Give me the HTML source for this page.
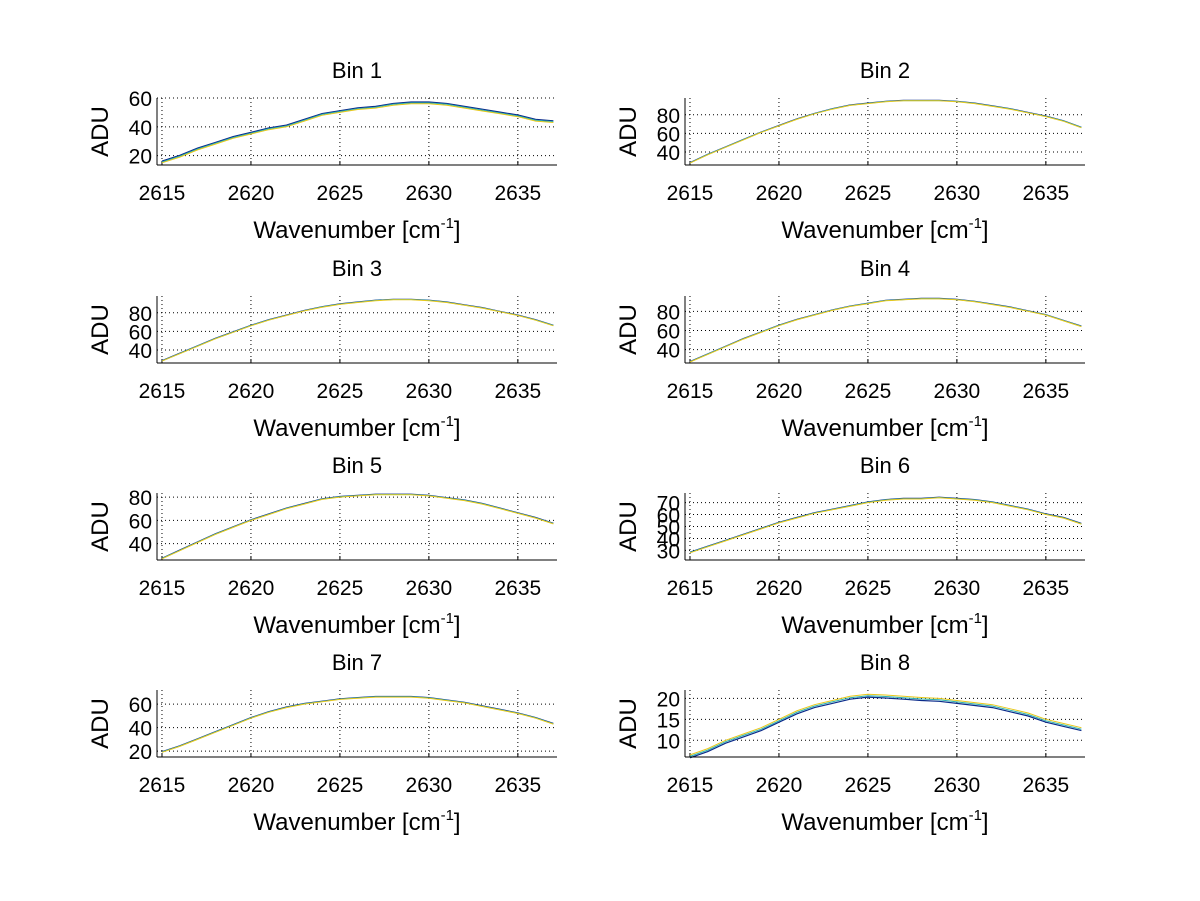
<!DOCTYPE html>
<html><head><meta charset="utf-8"><style>
body{margin:0;background:#fff}
svg{display:block;font-family:"Liberation Sans",sans-serif}
</style></head><body>
<svg id="fig" width="1200" height="901" viewBox="0 0 1200 901"></svg>
<script>
const wavenumbers=[2615,2616,2617,2618,2619,2620,2621,2622,2623,2624,2625,2626,2627,2628,2629,2630,2631,2632,2633,2634,2635,2636,2637];
const xTicks=[2615,2620,2625,2630,2635];
const bin1=[15,19,24,28,32,35,38,40,44,48,50,52,53,55,56,56,55,53,51,49,47,44,43];
const bin2=[28,37,45,53,61,68,75,81,86,90,92,94,95,95,95,94,92,89,86,82,78,73,66];
const bin3=[28,36,44,52,59,66,72,77,82,86,89,91,93,94,94,93,91,88,85,81,77,72,66];
const bin4=[27,35,43,51,58,65,71,76,81,85,88,91,92,93,93,92,90,87,84,80,76,70,64];
const bin5=[27,34,41,48,54,60,65,70,74,78,80,81,82,82,82,81,79,77,74,70,66,62,57];
const bin6=[28,33,38,43,48,53,57,61,64,67,70,72,73,73,74,73,72,70,67,64,60,57,52];
const bin7=[19,24,30,36,42,48,53,57,60,62,64,65,66,66,66,65,63,61,58,55,52,48,43];
const bin8=[6.5,8,10,11.5,13,15,17,18.5,19.5,20.5,21,20.8,20.5,20.2,20,19.5,19,18.5,17.5,16.5,15,14,13];
const binSeries=[bin1,bin2,bin3,bin4,bin5,bin6,bin7,bin8];
const yRanges=[[13.5,60],[26,98],[26,98],[26,96],[26,83.5],[22,78],[15,72],[6,22]];
const yTicks=[[20,40,60],[40,60,80],[40,60,80],[40,60,80],[40,60,80],[30,40,50,60,70],[20,40,60],[10,15,20]];
const blueOffset=[1.2,0.5,0.5,0.5,0.5,0.5,0.5,-0.7];

const NS="http://www.w3.org/2000/svg";
const svg=document.getElementById('fig');
function mk(tag,attrs,parent){const e=document.createElementNS(NS,tag);for(const k in attrs)e.setAttribute(k,attrs[k]);(parent||svg).appendChild(e);return e;}
const X0=2614.72,X1=2637.2;
for(let i=0;i<8;i++){
  const col=i%2,row=Math.floor(i/2);
  const L=col?685:157,R=L+400,T=[98,296,493,690][row],B=T+67;
  const g=mk('g',{});
  
  
  const [y0,y1]=yRanges[i];
  const xs=v=>L+(v-X0)/(X1-X0)*(R-L);
  const ys=v=>B-(v-y0)/(y1-y0)*(B-T);
  xTicks.forEach(t=>{const x=xs(t);
    const gl=mk('line',{x1:x,x2:x,y1:T,y2:B,stroke:'#000','stroke-width':1,'stroke-dasharray':'1,3'},g);
    
    const tl=mk('text',{x:x,y:B+35,'font-size':21,'text-anchor':'middle'},g);tl.textContent=t;
    
    mk('line',{x1:x,x2:x,y1:B,y2:B-4,stroke:'#000'},g);
  });
  yTicks[i].forEach(t=>{const y=ys(t);
    const gl=mk('line',{x1:L,x2:R,y1:y,y2:y,stroke:'#000','stroke-width':1,'stroke-dasharray':'1,3'},g);
    
    const tl=mk('text',{x:L-5,y:y+8,'font-size':21,'text-anchor':'end'},g);tl.textContent=t;
    
  });
  const s=binSeries[i];
  const pts=off=>wavenumbers.map((w,j)=>xs(w).toFixed(1)+','+ys(s[j]+off).toFixed(1)).join(' ');
  const lb=mk('polyline',{points:pts(blueOffset[i]),fill:'none',stroke:'#0a2a8a','stroke-width':1.2},g);
  
  const lc=mk('polyline',{points:pts(blueOffset[i]*0.5),fill:'none',stroke:'#2ab0b0','stroke-width':1},g);
  
  const ly=mk('polyline',{points:pts(0),fill:'none',stroke:'#e8c81a','stroke-width':1},g);
  
  mk('line',{x1:L,x2:R,y1:B,y2:B,stroke:'#000'},g);
  mk('line',{x1:L,x2:L,y1:T,y2:B,stroke:'#000'},g);
  const ti=mk('text',{x:(L+R)/2,y:T-20,'font-size':22,'text-anchor':'middle'},g);ti.textContent='Bin '+(i+1);
  
  const xl=mk('text',{x:(L+R)/2,y:B+73,'font-size':24,'text-anchor':'middle'},g);
  
  xl.appendChild(document.createTextNode('Wavenumber [cm'));
  const sup=mk('tspan',{'font-size':15,dy:-10},xl);sup.textContent='-1';
  const cl=mk('tspan',{dy:10},xl);cl.textContent=']';
  const yl=mk('text',{x:0,y:0,'font-size':24,'text-anchor':'middle',transform:`translate(${L-49},${(T+B)/2}) rotate(-90)`},g);yl.textContent='ADU';
  
}
</script>
</body></html>
